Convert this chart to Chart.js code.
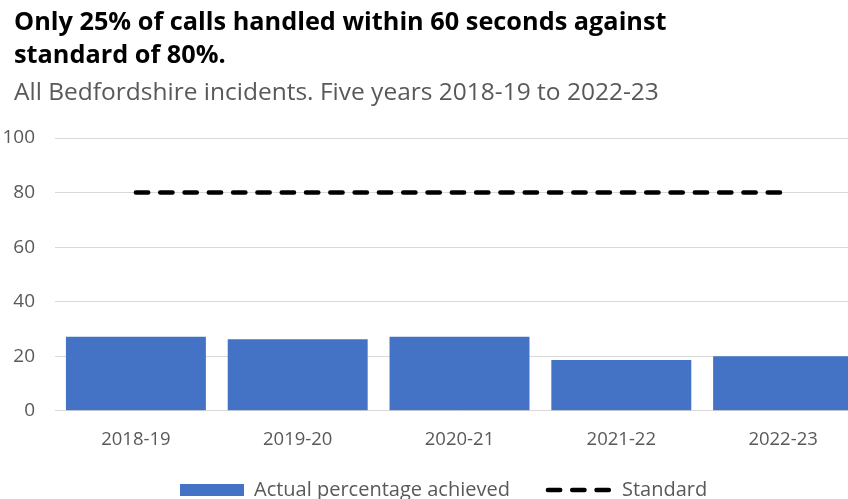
<!DOCTYPE html>
<html>
<head>
<meta charset="utf-8">
<script src="https://cdn.jsdelivr.net/npm/chart.js@4/dist/chart.umd.min.js"></script>
<style>
  html, body { margin: 0; padding: 0; background: #fff; overflow: hidden; }
  body { position: relative; width: 848px; height: 499px; }
  #wrap { position: absolute; left: 0; top: 0; width: 866px; height: 529px; }
  .hd { position: absolute; left: 14px; white-space: nowrap; font-family: 'Open Sans', 'Liberation Sans', sans-serif; }
  #title { top: 4px; font-size: 25.3px; font-weight: bold; line-height: 33px; color: #000; }
  #subtitle { top: 76.5px; font-size: 24.5px; line-height: 28px; color: #595959; }
</style>
</head>
<body>
<div id="wrap"><canvas id="callsChart"></canvas></div>
<div class="hd" id="title"></div>
<div class="hd" id="subtitle"></div>
<script>
// Call handling, Bedfordshire, % answered within 60s
const years = ["2018-19", "2019-20", "2020-21", "2021-22", "2022-23"];
const actualPct = [27.1, 26.2, 27.1, 18.6, 20.0];
const standardPct = [80, 80, 80, 80, 80];
const yTicks = [0, 20, 40, 60, 80, 100];

const titleLines = [
  "Only 25% of calls handled within 60 seconds against",
  "standard of 80%."
];
const subtitleText = "All Bedfordshire incidents. Five years 2018-19 to 2022-23";

const FONT = "'Open Sans', 'Liberation Sans', sans-serif";
const GREY = "#595959";
const BLUE = "#4472C4";
const DASH = [12.3, 12];

document.getElementById("title").innerHTML = titleLines.join("<br>");
document.getElementById("subtitle").textContent = subtitleText;

// legend: wider gap between items (Excel style) without pushing the plot up
const legendNudge = {
  id: "legendNudge",
  afterLayout(chart) {
    const lg = chart.legend;
    if (!lg) return;
    lg.top -= 19;
    lg.bottom -= 19;
    lg.left = 142;
  }
};

const ctx = document.getElementById("callsChart").getContext("2d");

new Chart(ctx, {
  data: {
    labels: years,
    datasets: [
      {
        type: "line",
        label: "Standard",
        data: standardPct,
        borderColor: "#000",
        borderWidth: 4.5,
        borderDash: DASH,
        borderCapStyle: "round",
        pointRadius: 0,
        fill: false,
        order: 0
      },
      {
        type: "bar",
        label: "Actual percentage achieved",
        data: actualPct,
        backgroundColor: BLUE,
        categoryPercentage: 1,
        barPercentage: 0.865,
        order: 1
      }
    ]
  },
  options: {
    responsive: true,
    maintainAspectRatio: false,
    animation: false,
    layout: { padding: { left: 0, right: 2, top: 138, bottom: 0 } },
    plugins: {
      legend: {
        position: "bottom",
        align: "start",
        labels: {
          color: GREY,
          font: { family: FONT, size: 20 },
          usePointStyle: true,
          pointStyleWidth: 64,
          boxHeight: 12,
          padding: 38,
          generateLabels: (chart) => {
            const ds = chart.data.datasets;
            return [
              {
                text: ds[1].label, datasetIndex: 1,
                fillStyle: BLUE, strokeStyle: BLUE, lineWidth: 0,
                pointStyle: "rect", fontColor: GREY
              },
              {
                text: ds[0].label, datasetIndex: 0,
                fillStyle: "#000", strokeStyle: "#000", lineWidth: 4.5,
                lineDash: DASH, lineCap: "round",
                pointStyle: "line", fontColor: GREY
              }
            ];
          }
        }
      },
      tooltip: { enabled: false }
    },
    scales: {
      x: {
        grid: { display: false },
        border: { display: false },
        ticks: { color: GREY, font: { family: FONT, size: 18.5 }, padding: 10 }
      },
      y: {
        min: 0,
        max: 100,
        afterFit: (scale) => { scale.width = 55; },
        afterBuildTicks: (scale) => { scale.ticks = yTicks.map(v => ({ value: v })); },
        grid: { color: "#d9d9d9", lineWidth: 1, drawTicks: false },
        border: { display: false },
        ticks: { color: GREY, font: { family: FONT, size: 19 }, padding: 20 }
      }
    }
  },
  plugins: [legendNudge]
});
</script>
</body>
</html>
